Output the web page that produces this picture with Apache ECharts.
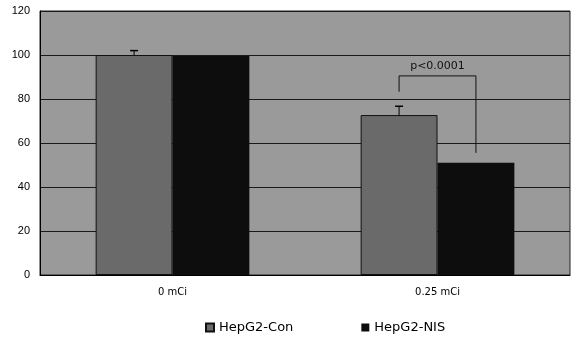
<!DOCTYPE html>
<html><head><meta charset="utf-8">
<script src="https://cdn.jsdelivr.net/npm/echarts@6/dist/echarts.min.js"></script>
<style>html,body{margin:0;padding:0;background:#fff}#c{width:571px;height:337px}</style>
</head><body><div id="c"></div>
<script>
const categories = ['0 mCi', '0.25 mCi'];
const conValues = [100, 72.7];
const conErrors = [2, 4];
const nisValues = [99.5, 51];
const nisErrors = [0, 0];
const yTicks = [0, 20, 40, 60, 80, 100, 120];
const pLabel = 'p<0.0001';
const bracket = { category: 1, top: 90.5, leftBottom: 83.3, rightBottom: 55.5, textValue: 95 };

const BAR_FRAC = 0.29;
const WIDE = 'DejaVu Sans, Verdana, sans-serif';
const chart = echarts.init(document.getElementById('c'));
function errItem(values, errors, side) {
  return function (params, api) {
    const i = api.value(0);
    const v = values[i], e = errors[i];
    if (!e) return null;
    const band = api.size([1, 0])[0];
    const cx = api.coord([i, 0])[0] + side * band * BAR_FRAC / 2;
    const top = api.coord([i, v + e])[1];
    const base = api.coord([i, v])[1];
    return { type: 'group', children: [
      { type: 'line', shape: { x1: cx, y1: base, x2: cx, y2: top }, style: { stroke: '#000', lineWidth: 1 } },
      { type: 'line', shape: { x1: cx - 4, y1: top, x2: cx + 4, y2: top }, style: { stroke: '#000', lineWidth: 1.5 } }
    ]};
  };
}
chart.setOption({
  animation: false,
  backgroundColor: '#fff',
  textStyle: { fontFamily: 'Liberation Sans, Arial, sans-serif' },
  grid: { left: 40, right: 1, top: 11, bottom: 62, show: true, backgroundColor: '#9a9a9a', borderColor: '#222', borderWidth: 1 },
  legend: {
    top: 316, left: 200, itemWidth: 8, itemHeight: 8, itemGap: 68, icon: 'rect',
    textStyle: { fontSize: 13, color: '#000', fontFamily: WIDE },
    data: ['HepG2-Con', 'HepG2-NIS']
  },
  xAxis: {
    type: 'category', data: categories,
    axisLine: { lineStyle: { color: '#000' } }, axisTick: { show: false },
    axisLabel: { fontSize: 10, color: '#000', margin: 12, fontFamily: WIDE }
  },
  yAxis: {
    type: 'value', min: 0, max: 120, interval: 20,
    axisLine: { show: true, lineStyle: { color: '#000' } }, axisTick: { show: false },
    axisLabel: { fontSize: 11, color: '#000', margin: 10 },
    splitLine: { lineStyle: { color: '#1a1a1a', width: 1 } }
  },
  series: [
    { name: 'HepG2-Con', type: 'bar', data: conValues, barWidth: (BAR_FRAC * 100) + '%', barGap: '0%',
      itemStyle: { color: '#6a6a6a', borderColor: '#111', borderWidth: 1 } },
    { name: 'HepG2-NIS', type: 'bar', data: nisValues, barWidth: (BAR_FRAC * 100) + '%',
      itemStyle: { color: '#0d0d0d' } },
    { type: 'custom', data: categories.map((c, i) => [i]), renderItem: errItem(conValues, conErrors, -1), z: 5, silent: true },
    { type: 'custom', data: categories.map((c, i) => [i]), renderItem: errItem(nisValues, nisErrors, 1), z: 5, silent: true },
    { type: 'custom', data: [[bracket.category]], z: 6, silent: true,
      renderItem: function (params, api) {
        const i = api.value(0);
        const band = api.size([1, 0])[0];
        const c = api.coord([i, 0])[0];
        const xl = c - band * BAR_FRAC / 2, xr = c + band * BAR_FRAC / 2;
        const yt = api.coord([i, bracket.top])[1];
        const yl = api.coord([i, bracket.leftBottom])[1];
        const yr = api.coord([i, bracket.rightBottom])[1];
        const ty = api.coord([i, bracket.textValue])[1];
        return { type: 'group', children: [
          { type: 'polyline', shape: { points: [[xl, yl], [xl, yt], [xr, yt], [xr, yr]] }, style: { stroke: '#111', lineWidth: 1, fill: null } },
          { type: 'text', x: (xl + xr) / 2, y: ty, style: { text: pLabel, fill: '#111', fontSize: 11, align: 'center', verticalAlign: 'middle', fontFamily: WIDE } }
        ]};
      } }
  ]
});
</script></body></html>
